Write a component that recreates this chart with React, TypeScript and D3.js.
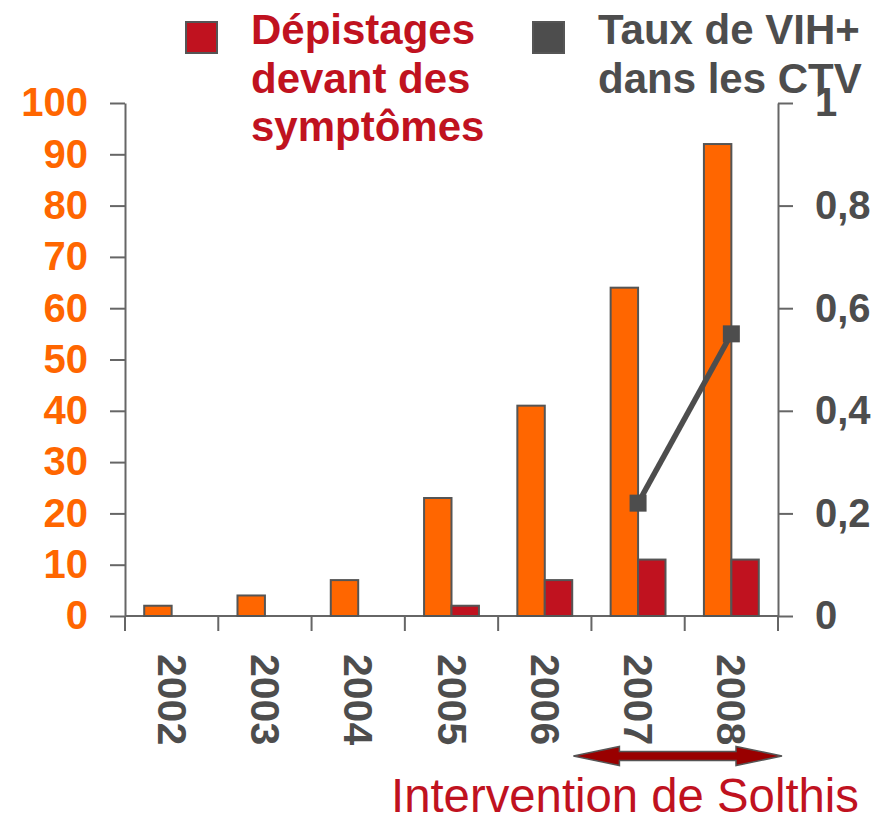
import { useRef, useEffect } from 'react';
import * as d3 from 'd3';

const years = ['2002', '2003', '2004', '2005', '2006', '2007', '2008'];
const totalValues = [2, 4, 7, 23, 41, 64, 92];
const symptomValues = [0, 0, 0, 2, 7, 11, 11];
const rateYears = ['2007', '2008'];
const rateValues = [0.22, 0.55];
const leftTicks = [0, 10, 20, 30, 40, 50, 60, 70, 80, 90, 100];
const rightTicks = [0, 0.2, 0.4, 0.6, 0.8, 1];

const ORANGE = '#ff6600';
const RED = '#c0121f';
const GREY = '#4d4d4d';
const AXIS = '#666666';
const FONT = '"Liberation Sans", Arial, sans-serif';

/**
 * Orange/red bar chart with the VIH+ rate line on a right axis
 */
export default function App() {
  const svgRef = useRef<SVGSVGElement>(null);

  useEffect(() => {
    if (!svgRef.current) return;
    const svg = d3.select(svgRef.current);
    svg.selectAll('*').remove();

    const width = 892;
    const height = 815;
    svg.attr('width', width).attr('height', height);

    const plotLeft = 125;
    const plotRight = 778;
    const plotTop = 103;
    const plotBottom = 616;

    // Scales
    const x = d3.scaleBand().domain(years).range([plotLeft, plotRight]);
    const sub = d3
      .scaleBand()
      .domain(['total', 'symptom'])
      .range([0, x.bandwidth()])
      .paddingInner(0)
      .paddingOuter(0.7);
    const yLeft = d3.scaleLinear().domain([0, 100]).range([plotBottom, plotTop]);
    const yRight = d3.scaleLinear().domain([0, 1]).range([plotBottom, plotTop]);

    const styleAxis = (g: d3.Selection<SVGGElement, unknown, null, undefined>, color: string) => {
      g.select('.domain').attr('stroke', AXIS).attr('stroke-width', 2);
      g.selectAll('.tick line').attr('stroke', AXIS).attr('stroke-width', 2);
      g.selectAll('.tick text')
        .attr('fill', color)
        .attr('font-family', FONT)
        .attr('font-size', 40)
        .attr('font-weight', 'bold');
    };

    // Left axis
    const gl = svg
      .append('g')
      .attr('transform', `translate(${plotLeft},0)`)
      .call(
        d3.axisLeft(yLeft).tickValues(leftTicks).tickSize(15).tickSizeOuter(0).tickPadding(22)
      );
    gl.attr('font-family', null).attr('font-size', null);
    styleAxis(gl, ORANGE);

    // Right axis
    const gr = svg
      .append('g')
      .attr('transform', `translate(${plotRight},0)`)
      .call(
        d3
          .axisRight(yRight)
          .tickValues(rightTicks)
          .tickSize(15)
          .tickSizeOuter(0)
          .tickPadding(22)
          .tickFormat((d) => String(d).replace('.', ','))
      );
    gr.attr('font-family', null).attr('font-size', null);
    styleAxis(gr, GREY);

    // Bottom axis line and category ticks
    svg
      .append('line')
      .attr('x1', plotLeft)
      .attr('x2', plotRight)
      .attr('y1', plotBottom)
      .attr('y2', plotBottom)
      .attr('stroke', AXIS)
      .attr('stroke-width', 2);

    const boundaries = [...years.map((d) => x(d) || 0), plotRight];
    svg
      .selectAll('.cat-tick')
      .data(boundaries)
      .join('line')
      .attr('class', 'cat-tick')
      .attr('x1', (d) => d)
      .attr('x2', (d) => d)
      .attr('y1', plotBottom)
      .attr('y2', plotBottom + 15)
      .attr('stroke', AXIS)
      .attr('stroke-width', 2);

    // Year labels, rotated
    svg
      .selectAll('.year-label')
      .data(years)
      .join('text')
      .attr('class', 'year-label')
      .attr(
        'transform',
        (d) => `translate(${(x(d) || 0) + x.bandwidth() / 2},${plotBottom + 38}) rotate(90)`
      )
      .attr('dominant-baseline', 'central')
      .attr('fill', GREY)
      .attr('font-family', FONT)
      .attr('font-size', 41)
      .attr('font-weight', 'bold')
      .text((d) => d);

    // Bars
    const bars = [
      ...years.map((yr, i) => ({ year: yr, key: 'total', value: totalValues[i], color: ORANGE })),
      ...years.map((yr, i) => ({ year: yr, key: 'symptom', value: symptomValues[i], color: RED })),
    ].filter((d) => d.value > 0);

    svg
      .selectAll('.bar')
      .data(bars)
      .join('rect')
      .attr('class', 'bar')
      .attr('x', (d) => (x(d.year) || 0) + (sub(d.key) || 0))
      .attr('width', sub.bandwidth())
      .attr('y', (d) => yLeft(d.value))
      .attr('height', (d) => plotBottom - yLeft(d.value))
      .attr('fill', (d) => d.color)
      .attr('stroke', '#555555')
      .attr('stroke-width', 2);

    // Rate line
    const ratePoints = rateYears.map((yr, i) => ({ year: yr, value: rateValues[i] }));
    const line = d3
      .line<{ year: string; value: number }>()
      .x((d) => (x(d.year) || 0) + x.bandwidth() / 2)
      .y((d) => yRight(d.value));

    svg
      .append('path')
      .datum(ratePoints)
      .attr('d', line)
      .attr('fill', 'none')
      .attr('stroke', GREY)
      .attr('stroke-width', 5.5);

    const marker = 17;
    svg
      .selectAll('.marker')
      .data(ratePoints)
      .join('rect')
      .attr('class', 'marker')
      .attr('x', (d) => (x(d.year) || 0) + x.bandwidth() / 2 - marker / 2)
      .attr('y', (d) => yRight(d.value) - marker / 2)
      .attr('width', marker)
      .attr('height', marker)
      .attr('fill', GREY);

    // Legend
    const legend = [
      { lines: ['Dépistages', 'devant des', 'symptômes'], color: RED, x: 186, textX: 251 },
      { lines: ['Taux de VIH+', 'dans les CTV'], color: GREY, x: 533, textX: 598 },
    ];
    legend.forEach((item) => {
      svg
        .append('rect')
        .attr('x', item.x)
        .attr('y', 22)
        .attr('width', 31)
        .attr('height', 31)
        .attr('fill', item.color)
        .attr('stroke', '#555555')
        .attr('stroke-width', 2);
      const t = svg
        .append('text')
        .attr('fill', item.color)
        .attr('font-family', FONT)
        .attr('font-size', 42)
        .attr('font-weight', 'bold');
      item.lines.forEach((ln, i) => {
        t.append('tspan')
          .attr('x', item.textX)
          .attr('y', 44 + i * 48.5)
          .text(ln);
      });
    });

    // Intervention arrow
    const ax0 = (x('2007') || 0) - 18;
    const ax1 = plotRight + 4;
    const ay = 756;
    const head = 46;
    const shaft = 4.5;
    const hw = 9.5;
    const arrow = d3.path();
    arrow.moveTo(ax0, ay);
    arrow.lineTo(ax0 + head, ay - hw);
    arrow.lineTo(ax0 + head, ay - shaft);
    arrow.lineTo(ax1 - head, ay - shaft);
    arrow.lineTo(ax1 - head, ay - hw);
    arrow.lineTo(ax1, ay);
    arrow.lineTo(ax1 - head, ay + hw);
    arrow.lineTo(ax1 - head, ay + shaft);
    arrow.lineTo(ax0 + head, ay + shaft);
    arrow.lineTo(ax0 + head, ay + hw);
    arrow.closePath();
    svg
      .append('path')
      .attr('d', arrow.toString())
      .attr('fill', '#990000')
      .attr('stroke', '#555555')
      .attr('stroke-width', 1.5);

    svg
      .append('text')
      .attr('x', 391)
      .attr('y', 812)
      .attr('fill', RED)
      .attr('font-family', FONT)
      .attr('font-size', 47.3)
      .text('Intervention de Solthis');
  }, []);

  return (
    <div style={{ position: 'absolute', left: 0, top: 0 }}>
      <svg ref={svgRef} style={{ display: 'block' }} />
    </div>
  );
}
